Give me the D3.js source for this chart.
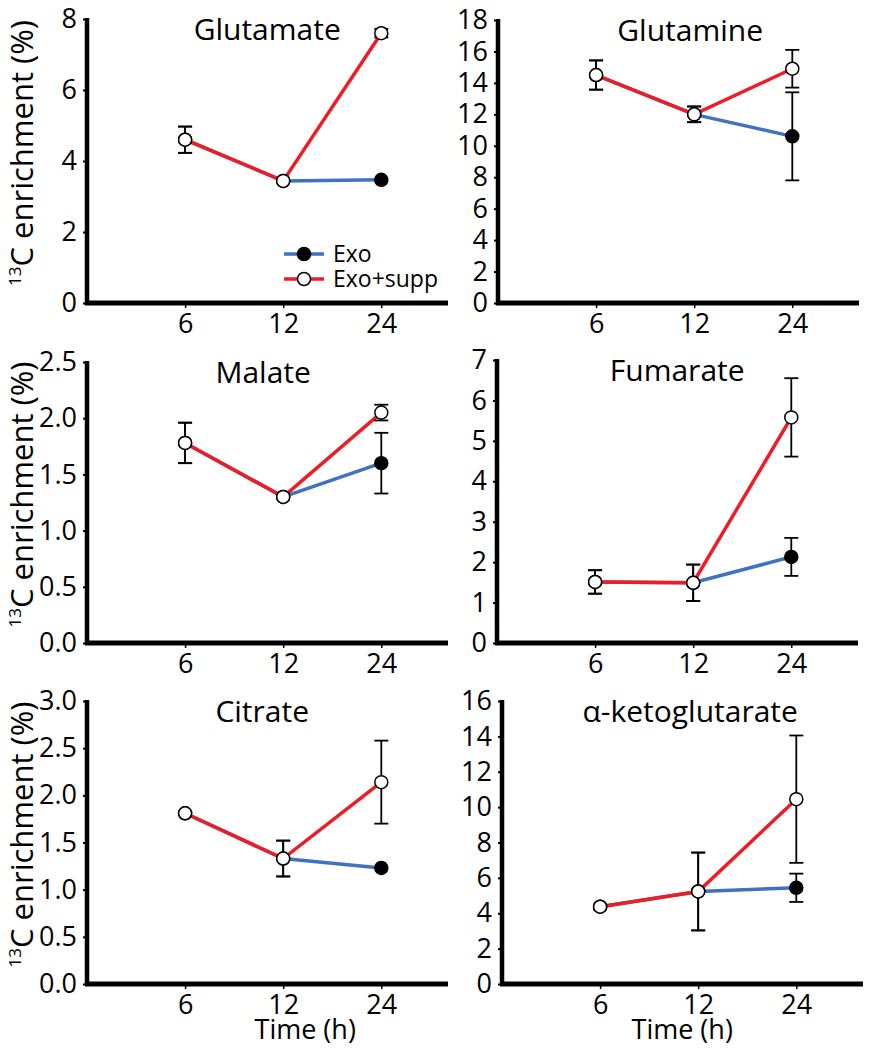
<!DOCTYPE html>
<html>
<head>
<meta charset="utf-8">
<script src="https://cdn.jsdelivr.net/npm/d3@7/dist/d3.min.js"></script>
<style>
  body { margin: 0; background: #fff; }
  svg text { font-family: "Open Sans", Lato, sans-serif; fill: #000; }
</style>
</head>
<body>
<div id="chart"></div>
<script>

var width = 874;
var height = 1050;

// data
var times = ["6", "12", "24"];
var metabolites = ["Glutamate", "Glutamine", "Malate", "Fumarate", "Citrate", "α-ketoglutarate"];
var seriesNames = ["Exo", "Exo+supp"];

var exoMean  = [[4.6, 3.44, 3.47], [14.5, 12.0, 10.6], [1.78, 1.30, 1.60], [1.51, 1.49, 2.13], [1.81, 1.33, 1.23], [4.37, 5.23, 5.44]];
var exoErr   = [[0.37, 0, 0],      [0.93, 0.5, 2.8],   [0.18, 0, 0.27],    [0.29, 0.45, 0.47], [0, 0.19, 0],       [0.1, 2.2, 0.8]];
var suppMean = [[4.6, 3.44, 7.6],  [14.5, 12.0, 14.9], [1.78, 1.30, 2.05], [1.51, 1.49, 5.58], [1.81, 1.33, 2.14], [4.37, 5.23, 10.45]];
var suppErr  = [[0.37, 0, 0.12],   [0.93, 0.5, 1.2],   [0.18, 0, 0.07],    [0.29, 0.45, 0.97], [0, 0.19, 0.44],    [0.1, 2.2, 3.6]];

var yMax = [8, 18, 2.5, 7, 3, 16];
var yStep = [2, 2, 0.5, 1, 0.5, 2];
var yFormat = ["d", "d", ".1f", "d", ".1f", "d"];

// panel layout
var panels = [
  {left: 87,  top: 19,  bottom: 303, titleDx: -16, timeDx: 22},
  {left: 498, top: 20,  bottom: 303, titleDx: -4,  timeDx: -16},
  {left: 87,  top: 362, bottom: 643, titleDx: -20, timeDx: 22},
  {left: 497, top: 360, bottom: 643, titleDx: -16, timeDx: -16},
  {left: 87,  top: 701, bottom: 984, titleDx: -21, timeDx: 22},
  {left: 502, top: 701, bottom: 984, titleDx: -8,  timeDx: -16}
];

var blue = "#3f72c0";
var red = "#ee1c24";

var svg = d3.select("#chart")
  .append("svg")
  .attr("width", width)
  .attr("height", height);

panels.forEach(function(p, i) {

  var g = svg.append("g");

  var x = d3.scaleLinear().domain([0, 3.68]).range([p.left, p.left + 361]);
  var y = d3.scaleLinear().domain([0, yMax[i]]).range([p.bottom, p.top]);

  var ticks = d3.range(0, yMax[i] + yStep[i] / 2, yStep[i]);

  var yAxis = g.append("g")
    .attr("transform", "translate(" + p.left + ",0)")
    .call(d3.axisLeft(y).tickValues(ticks).tickFormat(d3.format(yFormat[i])).tickSize(4).tickPadding(6).tickSizeOuter(0));
  yAxis.select(".domain").remove();
  yAxis.selectAll(".tick line").attr("stroke", "#000").attr("stroke-width", 2);
  yAxis.selectAll(".tick text")
    .attr("font-size", 27)
    .attr("font-family", "'Open Sans', sans-serif");

  var xAxis = g.append("g")
    .attr("transform", "translate(0," + p.bottom + ")")
    .call(d3.axisBottom(x).tickValues([1, 2, 3]).tickFormat(function(d) { return times[d - 1]; }).tickSize(5).tickPadding(6));
  xAxis.select(".domain").remove();
  xAxis.selectAll(".tick line").attr("stroke", "#000").attr("stroke-width", 1.5);
  xAxis.selectAll(".tick text")
    .attr("font-size", 27)
    .attr("font-family", "'Open Sans', sans-serif");

  // thick axis lines
  g.append("line")
    .attr("x1", p.left).attr("x2", p.left)
    .attr("y1", p.top - 1).attr("y2", p.bottom + 2)
    .attr("stroke", "#000").attr("stroke-width", 4.5);
  g.append("line")
    .attr("x1", p.left - 2).attr("x2", x(3.68))
    .attr("y1", p.bottom).attr("y2", p.bottom)
    .attr("stroke", "#000").attr("stroke-width", 5);

  g.append("text")
    .attr("x", x(2) + p.titleDx)
    .attr("y", p.top + 21)
    .attr("text-anchor", "middle")
    .attr("font-size", 30)
    .text(metabolites[i]);

  var exo = exoMean[i].map(function(v, k) { return {t: k + 1, v: v, e: exoErr[i][k]}; });
  var supp = suppMean[i].map(function(v, k) { return {t: k + 1, v: v, e: suppErr[i][k]}; });

  var line = d3.line()
    .x(function(d) { return x(d.t); })
    .y(function(d) { return y(d.v); });

  g.append("path").datum(exo)
    .attr("d", line).attr("fill", "none")
    .attr("stroke", blue).attr("stroke-width", 3.5);
  g.append("path").datum(supp)
    .attr("d", line).attr("fill", "none")
    .attr("stroke", red).attr("stroke-width", 3.5);

  // error bars
  [exo, supp].forEach(function(s) {
    var eb = g.selectAll(null)
      .data(s.filter(function(d) { return d.e > 0; }))
      .enter().append("g")
      .attr("stroke", "#000").attr("stroke-width", 1.8);
    eb.append("line")
      .attr("x1", function(d) { return x(d.t); }).attr("x2", function(d) { return x(d.t); })
      .attr("y1", function(d) { return y(d.v - d.e); }).attr("y2", function(d) { return y(d.v + d.e); });
    eb.append("line")
      .attr("x1", function(d) { return x(d.t) - 7; }).attr("x2", function(d) { return x(d.t) + 7; })
      .attr("y1", function(d) { return y(d.v - d.e); }).attr("y2", function(d) { return y(d.v - d.e); });
    eb.append("line")
      .attr("x1", function(d) { return x(d.t) - 7; }).attr("x2", function(d) { return x(d.t) + 7; })
      .attr("y1", function(d) { return y(d.v + d.e); }).attr("y2", function(d) { return y(d.v + d.e); });
  });

  g.selectAll(null).data(exo).enter().append("circle")
    .attr("cx", function(d) { return x(d.t); })
    .attr("cy", function(d) { return y(d.v); })
    .attr("r", 6.5)
    .attr("fill", "#000").attr("stroke", "#000").attr("stroke-width", 1.5);
  g.selectAll(null).data(supp).enter().append("circle")
    .attr("cx", function(d) { return x(d.t); })
    .attr("cy", function(d) { return y(d.v); })
    .attr("r", 6.5)
    .attr("fill", "#fff").attr("stroke", "#000").attr("stroke-width", 1.5);

  // y label on the left column
  if (i % 2 == 0) {
    var cy = (p.top + p.bottom) / 2 - 8;
    var lab = svg.append("text")
      .attr("transform", "translate(33," + cy + ") rotate(-90)")
      .attr("text-anchor", "middle")
      .attr("font-size", 31);
    lab.append("tspan").attr("font-size", 17).attr("dy", -12).text("13");
    lab.append("tspan").attr("dy", 12).text("C enrichment (%)");
  }

  // x label on the bottom row
  if (i >= 4) {
    svg.append("text")
      .attr("x", x(2) + p.timeDx)
      .attr("y", p.bottom + 55)
      .attr("text-anchor", "middle")
      .attr("font-size", 27)
      .text("Time (h)");
  }
});

// legend in the first panel
var legend = svg.append("g");
var legendRows = [{fill: "#000", color: blue}, {fill: "#fff", color: red}];
legendRows.forEach(function(r, k) {
  var ly = 254 + k * 25;
  legend.append("line")
    .attr("x1", 284).attr("x2", 324).attr("y1", ly).attr("y2", ly)
    .attr("stroke", r.color).attr("stroke-width", 3.5);
  legend.append("circle")
    .attr("cx", 304).attr("cy", ly).attr("r", 6.5)
    .attr("fill", r.fill).attr("stroke", "#000").attr("stroke-width", 1.5);
  legend.append("text")
    .attr("x", 333).attr("y", ly + 8)
    .attr("font-size", 23)
    .text(seriesNames[k]);
});

</script>
</body>
</html>
